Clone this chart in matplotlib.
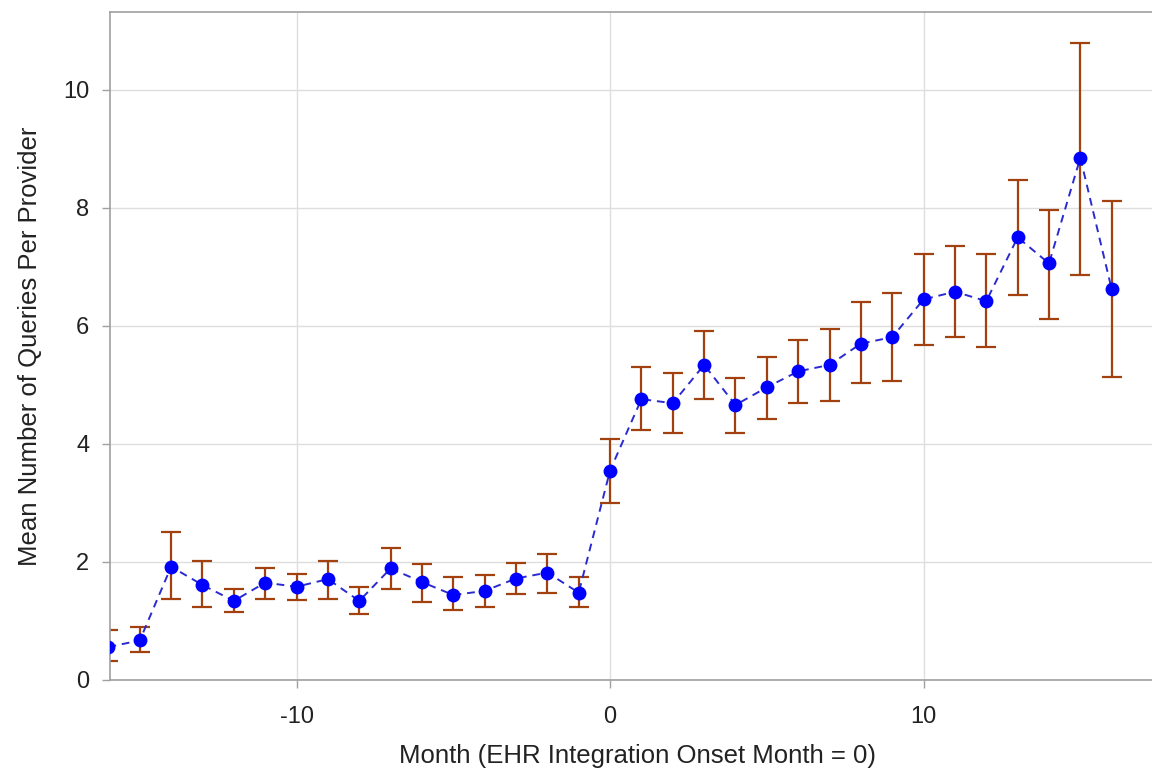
import numpy as np
from matplotlib import pyplot as plt

plt.rcParams['font.family'] = ['Liberation Sans', 'DejaVu Sans']
plt.rcParams['axes.unicode_minus'] = False

months = np.arange(-16, 17)
mean_queries = [0.56, 0.67, 1.92, 1.61, 1.34, 1.65, 1.58, 1.71, 1.34, 1.89,
                1.66, 1.44, 1.51, 1.72, 1.82, 1.48,
                3.55, 4.76, 4.69, 5.34, 4.66, 4.96, 5.23, 5.34, 5.70, 5.81,
                6.45, 6.58, 6.42, 7.50, 7.06, 8.85, 6.62]
upper = [0.85, 0.90, 2.50, 2.02, 1.54, 1.89, 1.79, 2.02, 1.58, 2.23,
         1.96, 1.75, 1.78, 1.99, 2.13, 1.75,
         4.08, 5.31, 5.20, 5.92, 5.12, 5.48, 5.77, 5.94, 6.41, 6.55,
         7.22, 7.36, 7.22, 8.48, 7.97, 10.79, 8.12]
lower = [0.33, 0.47, 1.38, 1.24, 1.15, 1.38, 1.35, 1.37, 1.11, 1.55,
         1.32, 1.18, 1.24, 1.45, 1.48, 1.24,
         3.00, 4.23, 4.19, 4.76, 4.19, 4.42, 4.69, 4.73, 5.03, 5.06,
         5.68, 5.81, 5.64, 6.52, 6.12, 6.86, 5.13]

mean_queries = np.array(mean_queries)
yerr = [mean_queries - np.array(lower), np.array(upper) - mean_queries]

fig = plt.figure(figsize=(11.52, 7.70), dpi=100)
ax = fig.add_axes([110 / 1152, 1 - 680 / 770, 1055 / 1152, 668 / 770])

ax.errorbar(months, mean_queries, yerr=yerr, fmt='none', ecolor='#a3400f',
            elinewidth=1.6, capsize=7.5, capthick=1.6, zorder=2)
ax.plot(months, mean_queries, linestyle=(0, (4, 3)), color='#2a2ad0',
        linewidth=1.4, zorder=3)
ax.plot(months, mean_queries, 'o', color='#0000ff', markersize=10,
        markeredgewidth=0, zorder=4)

ax.set_xlim(-15.95, 17.7)
ax.set_ylim(0, 11.32)
ax.set_xticks([-10, 0, 10])
ax.set_yticks([0, 2, 4, 6, 8, 10])
ax.grid(True, color='#dedede', linewidth=1)
ax.set_axisbelow(True)
for side in ['left', 'bottom', 'top', 'right']:
    ax.spines[side].set_color('#a0a0a0')
    ax.spines[side].set_linewidth(1.2)
ax.tick_params(colors='#a0a0a0', length=6, width=1, labelcolor='#222222',
               labelsize=17, pad=9)
ax.tick_params(axis='x', pad=13)
ax.set_xlabel('Month (EHR Integration Onset Month = 0)', fontsize=18.5,
              color='#222222', labelpad=11)
ax.set_ylabel('Mean Number of Queries Per Provider', fontsize=18.5,
              color='#222222', labelpad=15)

fig.savefig('out.png', dpi=100)
